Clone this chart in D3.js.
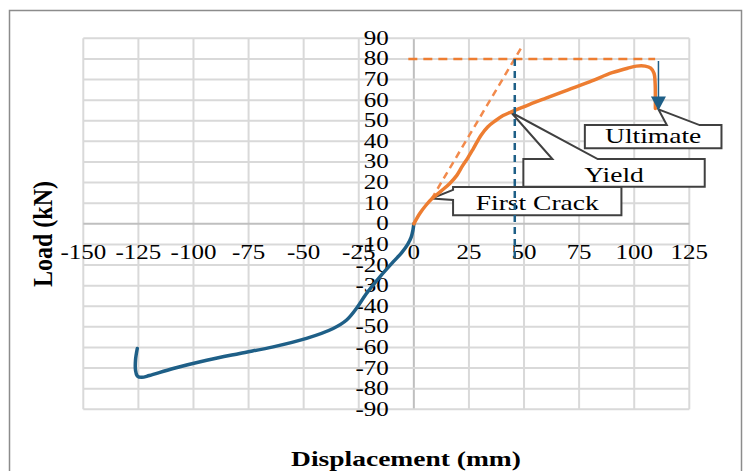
<!DOCTYPE html>
<html>
<head>
<meta charset="utf-8">
<script src="https://cdn.jsdelivr.net/npm/d3@7"></script>
<style>
  body { margin: 0; background: #fff; }
  svg text { font-family: "Liberation Serif", "Times New Roman", serif; fill: #000; }
</style>
</head>
<body>
<div id="chart"></div>
<script>
// load-displacement data
var xTicks = [-150, -125, -100, -75, -50, -25, 0, 25, 50, 75, 100, 125];
var yTicks = [90, 80, 70, 60, 50, 40, 30, 20, 10, 0, -10, -20, -30, -40, -50, -60, -70, -80, -90];

// push (positive) branch
var pushDisp = [0, 2.7, 5.5, 8.5, 12.5, 16.3, 19.5, 22, 24.5, 27, 30.5, 33.5, 37, 40.5, 44, 48, 52.6, 60, 70, 80, 90, 97, 101, 105, 107.5, 109, 109.5, 109.6, 109.6];
var pushLoad = [0, 5, 9, 12.5, 16, 19.6, 23.5, 28, 32, 36.5, 43, 47, 50, 52.5, 54.2, 56, 58, 61, 65, 69, 73.3, 75.5, 76.5, 76.5, 75.5, 73, 68, 61, 56];

// pull (negative) branch
var pullDisp = [0, -0.4, -1.2, -2.8, -5.5, -9.4, -15.4, -21.5, -26, -30.5, -36.6, -48.7, -63.8, -79, -94, -109.2, -120, -123.5, -125.5, -126.3, -126.3, -125.5];
var pullLoad = [0, -3, -6.5, -10, -14, -18.5, -25.7, -33.8, -41, -46.7, -50.8, -55.6, -59.7, -62.9, -66.2, -70.2, -73.6, -74.5, -73.8, -71, -66, -60.5];

// idealised lines
var capacityLine = [[-2.5, 80], [109.5, 80]];     // horizontal dashed
var stiffnessLine = [[8, 12], [48.5, 85]];         // initial stiffness
var yieldDispLine = [[45.8, 80], [45.8, -19]];     // yield displacement
var ultimateArrow = [[111, 79], [111, 55]];

// callouts: label, point, box (x0, x1, yTop, yBottom in data units), side of wedge, wedge range
var calloutLabels = ["Ultimate", "Yield", "First Crack"];
var calloutPoints = [[111, 55.5], [44.2, 54], [8, 12.3]];
var calloutBoxes = [[77.6, 139.6, 47.9, 36.6], [49.7, 132, 31.4, 18], [17.8, 94.2, 17.8, 4.2]];
var calloutSides = ["top", "top", "left"];
var calloutWedges = [[0.6, 0.84], [0.16, 0.41], [0.1, 0.46]];

var W = 745, H = 471;
var orange = "#ED7D31", blue = "#1E5F87";
var sx = 1.25; // the picture is stretched sideways

var svg = d3.select("#chart").append("svg")
    .attr("width", W)
    .attr("height", H);

// outer frame
svg.append("rect")
    .attr("x", 9.5).attr("y", 10.5)
    .attr("width", 732).attr("height", 480)
    .attr("fill", "#fff")
    .attr("stroke", "#8c8c8c")
    .attr("stroke-width", 1.5);

var x = d3.scaleLinear().domain([-150, 125]).range([83.3, 689.3]);
var y = d3.scaleLinear().domain([-90, 90]).range([409.3, 38.3]);

var stretchText = function (sel, px, py, str, anchor) {
    return sel.append("text")
        .attr("transform", "translate(" + px + "," + py + ") scale(" + sx + ",1)")
        .attr("text-anchor", anchor)
        .text(str);
};

// grid
var grid = svg.append("g");
grid.selectAll("line.v")
    .data(xTicks)
    .enter().append("line")
    .attr("x1", function (d) { return x(d); })
    .attr("x2", function (d) { return x(d); })
    .attr("y1", y(90)).attr("y2", y(-90))
    .attr("stroke", function (d) { return d === 0 ? "#bfbfbf" : "#d9d9d9"; })
    .attr("stroke-width", 2);
grid.selectAll("line.h")
    .data(yTicks)
    .enter().append("line")
    .attr("y1", function (d) { return y(d); })
    .attr("y2", function (d) { return y(d); })
    .attr("x1", x(-150)).attr("x2", x(125))
    .attr("stroke", function (d) { return d === 0 ? "#bfbfbf" : "#d9d9d9"; })
    .attr("stroke-width", 2);

// tick labels
var labels = svg.append("g").style("font-size", "20px");
yTicks.forEach(function (t) {
    stretchText(labels, x(0) - 25, y(t) + 6.5, String(t), "end");
});
xTicks.forEach(function (t) {
    stretchText(labels, x(t), 259, String(t), "middle");
});

var line = d3.line()
    .x(function (d) { return x(d[0]); })
    .y(function (d) { return y(d[1]); });

var smooth = d3.line()
    .x(function (d) { return x(d[0]); })
    .y(function (d) { return y(d[1]); })
    .curve(d3.curveCatmullRom.alpha(0.5));

// dashed idealisation
svg.append("path")
    .attr("d", line(stiffnessLine))
    .attr("fill", "none")
    .attr("stroke", "#F28A4C")
    .attr("stroke-width", 2.5)
    .attr("stroke-dasharray", "7,5");
svg.append("path")
    .attr("d", line(capacityLine))
    .attr("fill", "none")
    .attr("stroke", orange)
    .attr("stroke-width", 2.5)
    .attr("stroke-dasharray", "9,6");

// callouts
var callouts = svg.append("g").style("font-size", "22px");
calloutLabels.forEach(function (lab, i) {
    var b = calloutBoxes[i];
    var x0 = x(b[0]), x1 = x(b[1]), y0 = y(b[2]), y1 = y(b[3]);
    var tip = [x(calloutPoints[i][0]), y(calloutPoints[i][1])];
    var w = calloutWedges[i];
    var pts;
    if (calloutSides[i] === "top") {
        var a = x0 + (x1 - x0) * w[0], c = x0 + (x1 - x0) * w[1];
        pts = [[x0, y0], [a, y0], tip, [c, y0], [x1, y0], [x1, y1], [x0, y1]];
    } else {
        var a2 = y0 + (y1 - y0) * w[0], c2 = y0 + (y1 - y0) * w[1];
        pts = [[x0, y0], [x1, y0], [x1, y1], [x0, y1], [x0, c2], tip, [x0, a2]];
    }
    callouts.append("path")
        .attr("d", "M" + pts.map(function (p) { return p.join(","); }).join("L") + "Z")
        .attr("fill", "#fff")
        .attr("stroke", "#404040")
        .attr("stroke-width", 2)
        .attr("stroke-linejoin", "miter");
    stretchText(callouts, (x0 + x1) / 2, y1 - 5, lab, "middle");
});

// series
svg.append("path")
    .attr("d", smooth(pullDisp.map(function (d, i) { return [d, pullLoad[i]]; })))
    .attr("fill", "none")
    .attr("stroke", blue)
    .attr("stroke-width", 3.5)
    .attr("stroke-linecap", "round");
svg.append("path")
    .attr("d", smooth(pushDisp.map(function (d, i) { return [d, pushLoad[i]]; })))
    .attr("fill", "none")
    .attr("stroke", orange)
    .attr("stroke-width", 3.5)
    .attr("stroke-linecap", "round");

// yield displacement marker
svg.append("path")
    .attr("d", line(yieldDispLine))
    .attr("fill", "none")
    .attr("stroke", blue)
    .attr("stroke-width", 2.5)
    .attr("stroke-dasharray", "7,5");

// ultimate arrow
var ax = x(ultimateArrow[0][0]);
svg.append("line")
    .attr("x1", ax).attr("x2", ax)
    .attr("y1", y(ultimateArrow[0][1]))
    .attr("y2", y(ultimateArrow[1][1]) - 12)
    .attr("stroke", blue)
    .attr("stroke-width", 1.5);
svg.append("path")
    .attr("d", "M" + (ax - 7.5) + "," + (y(ultimateArrow[1][1]) - 14) +
        "L" + (ax + 7.5) + "," + (y(ultimateArrow[1][1]) - 14) +
        "L" + ax + "," + y(ultimateArrow[1][1]) + "Z")
    .attr("fill", blue);

// axis titles
var titles = svg.append("g").style("font-size", "22px").style("font-weight", "bold");
stretchText(titles, 406, 466, "Displacement (mm)", "middle");
titles.append("text")
    .attr("transform", "translate(52,234) scale(1.1,1) rotate(-90)")
    .attr("text-anchor", "middle")
    .style("font-size", "24px")
    .text("Load (kN)");
</script>
</body>
</html>
